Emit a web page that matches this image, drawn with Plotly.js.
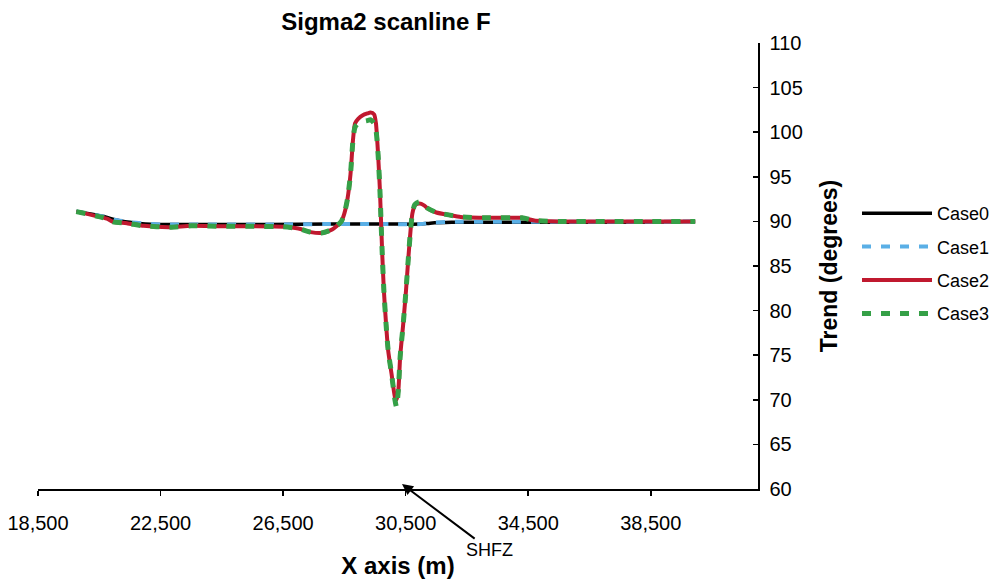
<!DOCTYPE html>
<html>
<head>
<meta charset="utf-8">
<script src="https://cdn.plot.ly/plotly-3.0.1.min.js"></script>
<style>html,body{margin:0;padding:0;background:#fff;}#chart{width:996px;height:584px;}</style>
</head>
<body>
<div id="chart"></div>
<script>
// ---- data ----
const case0X = [19750, 20700, 21000, 21500, 22000, 22500, 24000, 26000, 28000, 30000, 31000, 31300, 32000, 33500, 36000, 38000, 39950];
const case0Y = [91.1, 90.5, 90.2, 89.9, 89.7, 89.65, 89.65, 89.65, 89.7, 89.7, 89.7, 89.8, 89.9, 89.9, 89.9, 89.9, 90.0];

const case1X = [19750, 20700, 21000, 21500, 22000, 22500, 24000, 26000, 28000, 30000, 31000, 31300, 32000, 33500, 36000, 38000, 39950];
const case1Y = [91.1, 90.5, 90.2, 89.9, 89.75, 89.65, 89.65, 89.65, 89.7, 89.7, 89.7, 89.85, 89.95, 89.95, 89.95, 89.95, 90.0];

const case2X = [19750, 20750, 20950, 21400, 21950, 22800, 23500, 24500, 25500, 26500, 27000, 27400, 27750, 28100, 28400, 28500, 28600, 28700, 28780, 28850, 28950, 29100, 29250, 29350, 29470, 29530, 29600, 29660, 29700, 29740, 29790, 29860, 29930, 30040, 30150, 30200, 30260, 30320, 30420, 30510, 30590, 30660, 30720, 30800, 30950, 31100, 31200, 31500, 31950, 32300, 33250, 34300, 34700, 35500, 37000, 38500, 39950];
const case2Y = [91.1, 90.3, 89.95, 89.8, 89.5, 89.35, 89.5, 89.45, 89.45, 89.4, 89.2, 88.8, 88.7, 89.1, 90.0, 90.9, 92.5, 95.3, 99.1, 101.0, 101.5, 101.9, 102.1, 102.2, 102.0, 101.0, 97.5, 93.5, 89.7, 86.0, 82.2, 78.5, 75.5, 72.9, 70.3, 70.0, 71.0, 74.8, 78.5, 82.2, 86.0, 89.0, 90.9, 91.8, 92.0, 91.8, 91.5, 91.0, 90.7, 90.5, 90.4, 90.4, 90.1, 90.0, 90.0, 90.0, 90.0];

const case3X = case2X;
const case3Y = [91.1, 90.3, 89.95, 89.8, 89.5, 89.35, 89.5, 89.45, 89.45, 89.4, 89.2, 88.8, 88.7, 89.1, 90.0, 90.9, 92.5, 95.3, 99.1, 100.6, 101.0, 101.2, 101.3, 101.4, 101.0, 100.3, 97.5, 93.5, 89.7, 86.0, 82.2, 78.5, 75.5, 72.9, 70.0, 69.2, 71.0, 74.8, 78.5, 82.2, 86.0, 89.0, 90.9, 91.9, 92.2, 91.8, 91.5, 91.0, 90.7, 90.5, 90.4, 90.4, 90.1, 90.0, 90.0, 90.0, 90.0];

const names = ["Case0", "Case1", "Case2", "Case3"];
const xTicks = [18500, 22500, 26500, 30500, 34500, 38500];
const yTicks = [60, 65, 70, 75, 80, 85, 90, 95, 100, 105, 110];

const FONT = "Liberation Sans, Arial, Helvetica, sans-serif";

const traces = [
  {x: case0X, y: case0Y, name: names[0], legendgroup: "g0", line: {color: "#000000", width: 3.5, shape: "spline", smoothing: 0.6}},
  {x: case1X, y: case1Y, name: names[1], legendgroup: "g1", line: {color: "#5aafe6", width: 4, dash: "9px,10px", shape: "spline", smoothing: 0.6}},
  {x: case2X, y: case2Y, name: names[2], legendgroup: "g2", line: {color: "#c0192f", width: 4, shape: "spline", smoothing: 0.6}},
  {x: case3X, y: case3Y, name: names[3], legendgroup: "g3", line: {color: "#35a047", width: 5, dash: "9px,10px", shape: "spline", smoothing: 0.6}}
].map(t => Object.assign({type: "scatter", mode: "lines"}, t));

const layout = {
  width: 996, height: 584,
  paper_bgcolor: "#ffffff", plot_bgcolor: "#ffffff",
  margin: {l: 38, r: 238, t: 43, b: 95, pad: 0, autoexpand: false},
  font: {family: FONT, size: 20, color: "#000"},
  title: {text: "<b>Sigma2 scanline F</b>", font: {family: FONT, size: 24, color: "#000"}, x: 386/996, xanchor: "center", y: 1 - 22/584, yanchor: "middle"},
  xaxis: {
    range: [18500, 42000], tickvals: xTicks, tickformat: ",d",
    showgrid: false, zeroline: false, showline: true, linecolor: "#000", linewidth: 1.5,
    ticks: "outside", ticklen: 5, tickcolor: "#000", tickwidth: 1.5,
    ticklabelstandoff: 10, automargin: false,
    tickfont: {family: FONT, size: 20},
    title: {text: "<b>X axis (m)</b>", font: {family: FONT, size: 24}, standoff: 24}
  },
  yaxis: {
    range: [60, 110], tickvals: yTicks, side: "right",
    showgrid: false, zeroline: false, showline: true, linecolor: "#000", linewidth: 1.5,
    ticks: "inside", ticklen: 5, tickcolor: "#000", tickwidth: 1.5,
    ticklabelstandoff: 6, automargin: false,
    tickfont: {family: FONT, size: 20},
    title: {text: "<b>Trend (degrees)</b>", font: {family: FONT, size: 23}, standoff: 19}
  },
  showlegend: true,
  legend: {
    x: (862 - 5 - 38) / 720, xanchor: "left", y: 1 - (195 - 43) / 446, yanchor: "top",
    font: {family: FONT, size: 18}, itemwidth: 70,
    traceorder: "grouped", tracegroupgap: 7,
    bgcolor: "rgba(0,0,0,0)", borderwidth: 0
  },
  annotations: [{
    x: 30380, y: 60.55, xref: "x", yref: "y",
    text: "SHFZ", showarrow: true, arrowhead: 2, arrowsize: 1.1, arrowwidth: 2, arrowcolor: "#000",
    ax: 88, ay: 66, font: {family: FONT, size: 18, color: "#000"}
  }]
};

Plotly.newPlot("chart", traces, layout, {displayModeBar: false, staticPlot: true});
</script>
</body>
</html>
